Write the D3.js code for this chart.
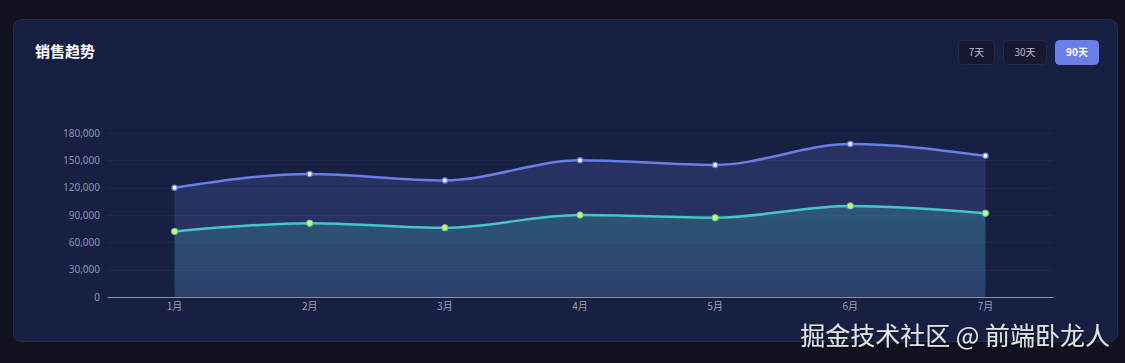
<!DOCTYPE html>
<html>
<head>
<meta charset="utf-8">
<script src="https://cdn.jsdelivr.net/npm/d3@7"></script>
<style>
  html, body { margin: 0; padding: 0; background: #12111f; }
  body { width: 1125px; height: 363px; overflow: hidden; font-family: "Noto Sans CJK SC", "Noto Sans", sans-serif; }
  svg { display: block; }
</style>
</head>
<body>
<script>
const months = ['1月', '2月', '3月', '4月', '5月', '6月', '7月'];
const salesUpper = [120000, 135000, 128000, 150000, 145000, 168000, 155000];
const salesLower = [72000, 81000, 76000, 90000, 87000, 100000, 92000];
const yTicks = [0, 30000, 60000, 90000, 120000, 150000, 180000];
const ranges = ['7天', '30天', '90天'];
const activeRange = '90天';

const width = 1125;
const height = 363;
const plot = { left: 107, right: 1053, top: 133, bottom: 297 };

const svg = d3.select('body').append('svg')
  .attr('width', width)
  .attr('height', height);

const defs = svg.append('defs');
const grad = defs.append('linearGradient')
  .attr('id', 'lowerFill')
  .attr('x1', 0).attr('y1', 0).attr('x2', 0).attr('y2', 1);
grad.append('stop').attr('offset', '0%').attr('stop-color', '#45c8bc').attr('stop-opacity', 0.24);
grad.append('stop').attr('offset', '100%').attr('stop-color', '#45c8bc').attr('stop-opacity', 0.09);

const shadow = defs.append('filter').attr('id', 'txtShadow');
shadow.append('feDropShadow')
  .attr('dx', 1).attr('dy', 1).attr('stdDeviation', 1)
  .attr('flood-color', '#000').attr('flood-opacity', 0.6);

// card
svg.append('rect')
  .attr('x', 13.5).attr('y', 19.5)
  .attr('width', 1104).attr('height', 322)
  .attr('rx', 8)
  .attr('fill', '#172042')
  .attr('stroke', '#252d4d');

svg.append('text')
  .attr('x', 35).attr('y', 57)
  .attr('fill', '#ffffff')
  .attr('font-size', 15)
  .attr('font-weight', 'bold')
  .text('销售趋势');

// range buttons
const btnWidths = { '7天': 36, '30天': 43, '90天': 43 };
let bx = 958;
ranges.forEach((r) => {
  const w = btnWidths[r];
  const active = r === activeRange;
  svg.append('rect')
    .attr('x', bx + 0.5).attr('y', 40.5)
    .attr('width', w).attr('height', 24)
    .attr('rx', 4)
    .attr('fill', active ? '#6b7ee8' : '#18192f')
    .attr('stroke', active ? '#6b7ee8' : '#262a45');
  svg.append('text')
    .attr('x', bx + w / 2 + 0.5).attr('y', 56)
    .attr('text-anchor', 'middle')
    .attr('fill', active ? '#ffffff' : '#b8bccc')
    .attr('font-size', 10)
    .attr('font-weight', active ? 'bold' : 'normal')
    .text(r);
  bx += w + 9;
});

const xScale = d3.scaleBand().domain(months).range([plot.left, plot.right]);
const yScale = d3.scaleLinear().domain([0, 180000]).range([plot.bottom, plot.top]);
const cx = (d, i) => xScale(months[i]) + xScale.bandwidth() / 2;

// grid
svg.append('g')
  .selectAll('line')
  .data(yTicks.slice(1))
  .enter()
  .append('line')
  .attr('x1', plot.left).attr('x2', plot.right)
  .attr('y1', (d) => Math.round(yScale(d)) + 0.5)
  .attr('y2', (d) => Math.round(yScale(d)) + 0.5)
  .attr('stroke', '#1f2848')
  .attr('stroke-width', 1);

const curve = d3.curveMonotoneX;

const area = d3.area()
  .x(cx)
  .y0(yScale(0))
  .y1((d) => yScale(d))
  .curve(curve);

const line = d3.line()
  .x(cx)
  .y((d) => yScale(d))
  .curve(curve);

svg.append('path')
  .datum(salesUpper)
  .attr('d', area)
  .attr('fill', '#6b7fe8')
  .attr('fill-opacity', 0.2);

svg.append('path')
  .datum(salesLower)
  .attr('d', area)
  .attr('fill', 'url(#lowerFill)');

svg.append('path')
  .datum(salesUpper)
  .attr('d', line)
  .attr('fill', 'none')
  .attr('stroke', '#6a7ee6')
  .attr('stroke-width', 2.5);

svg.append('path')
  .datum(salesLower)
  .attr('d', line)
  .attr('fill', 'none')
  .attr('stroke', '#43c9c1')
  .attr('stroke-width', 2.5);

svg.append('g')
  .selectAll('circle')
  .data(salesUpper)
  .enter()
  .append('circle')
  .attr('cx', cx)
  .attr('cy', (d) => yScale(d))
  .attr('r', 2.6)
  .attr('fill', '#ffffff')
  .attr('stroke', '#6a7ee6')
  .attr('stroke-width', 1.3);

svg.append('g')
  .selectAll('circle')
  .data(salesLower)
  .enter()
  .append('circle')
  .attr('cx', cx)
  .attr('cy', (d) => yScale(d))
  .attr('r', 3.2)
  .attr('fill', '#dcf25c')
  .attr('stroke', '#43c9c1')
  .attr('stroke-width', 1);

// axes
const yAxis = d3.axisLeft(yScale)
  .tickValues(yTicks)
  .tickSize(0)
  .tickPadding(7)
  .tickFormat(d3.format(','));

svg.append('g')
  .attr('transform', `translate(${plot.left}, 0)`)
  .call(yAxis)
  .call((g) => g.select('.domain').remove())
  .call((g) => g.selectAll('text')
    .attr('fill', '#8c93ad')
    .attr('font-size', 10)
    .attr('font-family', '"Noto Sans", sans-serif'));

const xAxis = d3.axisBottom(xScale).tickSize(0).tickPadding(6);

svg.append('g')
  .attr('transform', `translate(0, ${plot.bottom})`)
  .call(xAxis)
  .call((g) => g.select('.domain').attr('stroke', '#8a90a8').attr('stroke-width', 1))
  .call((g) => g.selectAll('text')
    .attr('fill', '#9aa1b8')
    .attr('font-size', 10)
    .attr('font-family', '"Noto Sans CJK SC", sans-serif'));

// watermark
svg.append('text')
  .attr('x', 1110).attr('y', 345)
  .attr('text-anchor', 'end')
  .attr('fill', '#e2e2e6')
  .attr('font-size', 25)
  .attr('filter', 'url(#txtShadow)')
  .text('掘金技术社区 @ 前端卧龙人');
</script>
</body>
</html>
